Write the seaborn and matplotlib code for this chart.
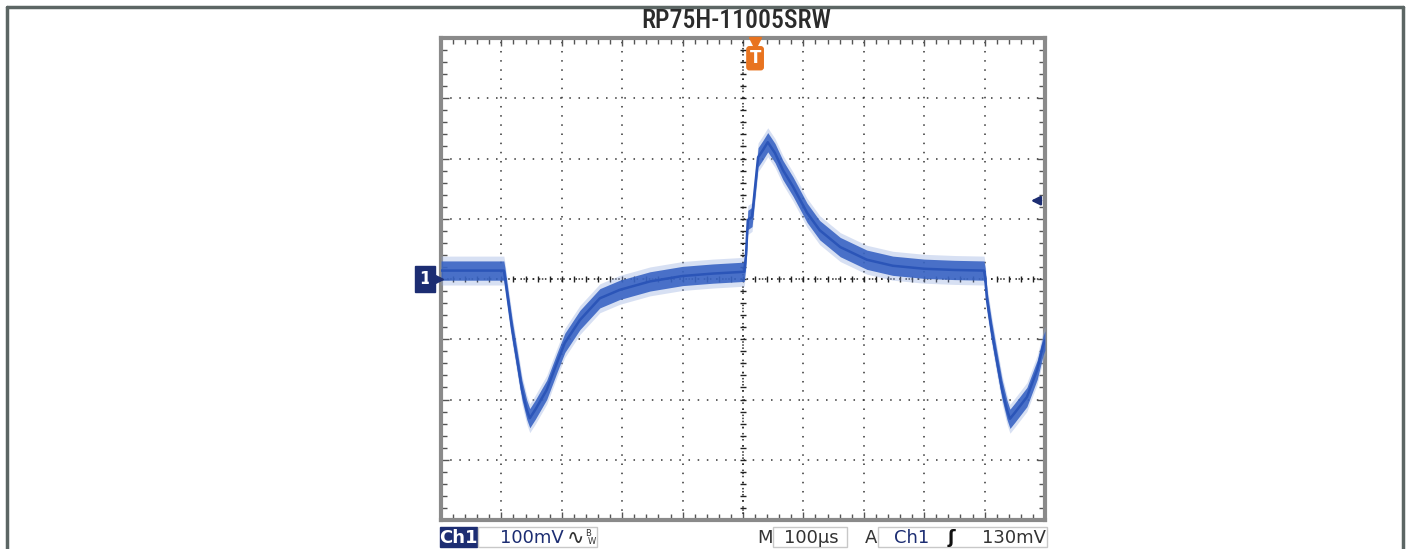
import numpy as np
import pandas as pd
import matplotlib
matplotlib.use("Agg")
import matplotlib.pyplot as plt
import matplotlib.transforms as mtransforms
from matplotlib.patches import Rectangle
from matplotlib.lines import Line2D
import seaborn as sns

# Ch1 trace: time (us) and voltage (mV), ground at 0
time_us = [0, 104, 106, 111, 118, 126, 134, 142, 147, 156, 175, 192, 205, 230, 263,
           296, 346, 400, 450, 502, 505, 508, 515, 520, 525, 533, 541, 553, 566,
           583, 606, 627, 661, 705, 748, 800, 850, 899, 901, 904, 912, 920, 929,
           937, 942, 950, 970, 987, 997, 1000]
ch1_mv = [14, 14, 2, -35, -85, -134, -184, -217, -231, -217, -184, -139, -106, -68, -32,
          -18, -4, 5, 9, 12, 40, 98, 103, 153, 202, 214, 227, 209, 181,
          153, 110, 81, 53, 32, 22, 17, 15, 14, 2, -35, -88, -134, -184,
          -217, -232, -222, -196, -151, -110, -102]

title = "RP75H-11005SRW"
ch1_scale = "100mV"
time_scale = "100\u00b5s"
trig_source = "Ch1"
trig_level_mv = 130
trig_level_label = "130mV"
trig_pos_us = 520

navy = "#1c2d72"
trace = "#3561c2"

sns.set_theme(style="white")
plt.rcParams['font.family'] = ['DejaVu Sans']

W, H = 1407, 549
fig = plt.figure(figsize=(W / 100, H / 100), dpi=100)
fig.patch.set_facecolor("white")


def fx(px):
    return px / W


def fy(py):
    return 1 - py / H


# outer frame (top, left, right)
for xs, ys in [((7, 1403), (7, 7)), ((7, 7), (7, H)), ((1403, 1403), (7, H))]:
    fig.add_artist(Line2D([fx(x) for x in xs], [fy(y) for y in ys],
                          color="#5c6664", lw=2.5, transform=fig.transFigure))

fig.text(fx(736), fy(21), title, ha="center", va="center", fontsize=18.5,
         family=["Roboto Condensed", "Liberation Sans Narrow", "Roboto", "DejaVu Sans"],
         fontweight="medium", color="#2b2b2b")

ax = fig.add_axes([fx(441), fy(520), fx(1045) - fx(441), fy(38) - fy(520)])
ax.set_facecolor("white")

df = pd.DataFrame({"t": time_us, "v": ch1_mv})
v = np.array(ch1_mv, dtype=float)
ax.fill_between(df["t"], v - 24, v + 24, color="#8fa7dd", alpha=0.35, lw=0, zorder=3)
ax.fill_between(df["t"], v - 16, v + 16, color=trace, alpha=0.88, lw=0, zorder=4)
sns.lineplot(data=df, x="t", y="v", ax=ax, color="#2b55b8", lw=1.8, zorder=5)

ax.set_xlim(0, 1000)
ax.set_ylim(-400, 400)
ax.set_xlabel("")
ax.set_ylabel("")
ax.set_xticks(np.arange(0, 1001, 100))
ax.set_yticks(np.arange(-400, 401, 100))
ax.set_xticks(np.arange(0, 1001, 20), minor=True)
ax.set_yticks(np.arange(-400, 401, 20), minor=True)
ax.tick_params(which="both", direction="in", top=True, right=True, bottom=True, left=True,
               labelbottom=False, labelleft=False, color="#555555")
ax.tick_params(which="major", length=6, width=1)
ax.tick_params(which="minor", length=4, width=1)
for s in ax.spines.values():
    s.set_color("#8a8a8a")
    s.set_linewidth(3)

ax.grid(True, which="major", color="#333333", linestyle=(0, (1, 5)), linewidth=1.1, zorder=1)

# centre crosshair with minor ticks
ax.plot([0, 1000], [0, 0], color="#222222", linestyle=(0, (1, 3)), lw=1.1, zorder=2)
ax.plot([500, 500], [-400, 400], color="#222222", linestyle=(0, (1, 3)), lw=1.1, zorder=2)
mx = np.arange(0, 1001, 20)
my = np.arange(-400, 401, 20)
ax.plot(mx, np.zeros_like(mx), ls="none", marker="|", ms=5, color="#222222", zorder=2)
ax.plot(np.full_like(my, 500), my, ls="none", marker="_", ms=5, color="#222222", zorder=2)

# ground marker "1"
blend_y = mtransforms.blended_transform_factory(ax.transAxes, ax.transData)
ax.text(-0.027, 0, "1", transform=blend_y, ha="center", va="center", color="white",
        fontsize=12, fontweight="bold", clip_on=False,
        bbox=dict(boxstyle="square,pad=0.25", fc=navy, ec=navy))
ax.plot([-0.008], [0], transform=blend_y, marker=">", ms=10, color=navy, clip_on=False, zorder=6)

# trigger level arrow on the right
ax.annotate("", xy=(0.972, trig_level_mv), xytext=(0.998, trig_level_mv),
            xycoords=blend_y, textcoords=blend_y,
            arrowprops=dict(arrowstyle="-|>", color=navy, lw=1.8, mutation_scale=13))

# trigger position marker at top
blend_x = mtransforms.blended_transform_factory(ax.transData, ax.transAxes)
ax.plot([trig_pos_us], [0.99], transform=blend_x, marker="v", ms=9, color="#e8731f",
        clip_on=False, zorder=7)
ax.text(trig_pos_us, 0.958, "T", transform=blend_x, ha="center", va="center",
        color="white", fontsize=12, fontweight="bold", zorder=7,
        bbox=dict(boxstyle="round,pad=0.15", fc="#e8731f", ec="#e8731f"))

# status bar
bar_y = fy(538)
fig.add_artist(Rectangle((fx(440), fy(547)), fx(477) - fx(440), fy(527) - fy(547),
                         transform=fig.transFigure, fc=navy, ec=navy))
for x0, x1 in [(478, 597), (773, 847), (878, 1047)]:
    fig.add_artist(Rectangle((fx(x0), fy(547)), fx(x1) - fx(x0), fy(527) - fy(547),
                             transform=fig.transFigure, fc="none", ec="#c8c8c8", lw=1))
fig.text(fx(458), bar_y, "Ch1", ha="center", va="center", color="white", fontsize=13, fontweight="bold")
fig.text(fx(532), bar_y, ch1_scale, ha="center", va="center", color=navy, fontsize=13)
fig.text(fx(576), bar_y, "\u223f", ha="center", va="center", color="#333333", fontsize=15)
fig.text(fx(588), fy(534), "B", ha="center", va="center", color="#333333", fontsize=6)
fig.text(fx(592), fy(541), "W", ha="center", va="center", color="#333333", fontsize=6)
fig.text(fx(765), bar_y, "M", ha="center", va="center", color="#333333", fontsize=13)
fig.text(fx(811), bar_y, time_scale, ha="center", va="center", color="#333333", fontsize=13)
fig.text(fx(871), bar_y, "A", ha="center", va="center", color="#333333", fontsize=13)
fig.text(fx(912), bar_y, trig_source, ha="center", va="center", color=navy, fontsize=13)
fig.text(fx(951), bar_y, "\u0283", ha="center", va="center", color="#111111", fontsize=13, fontweight="bold")
fig.text(fx(1014), bar_y, trig_level_label, ha="center", va="center", color="#333333", fontsize=13)

fig.savefig("out.png", dpi=100)
